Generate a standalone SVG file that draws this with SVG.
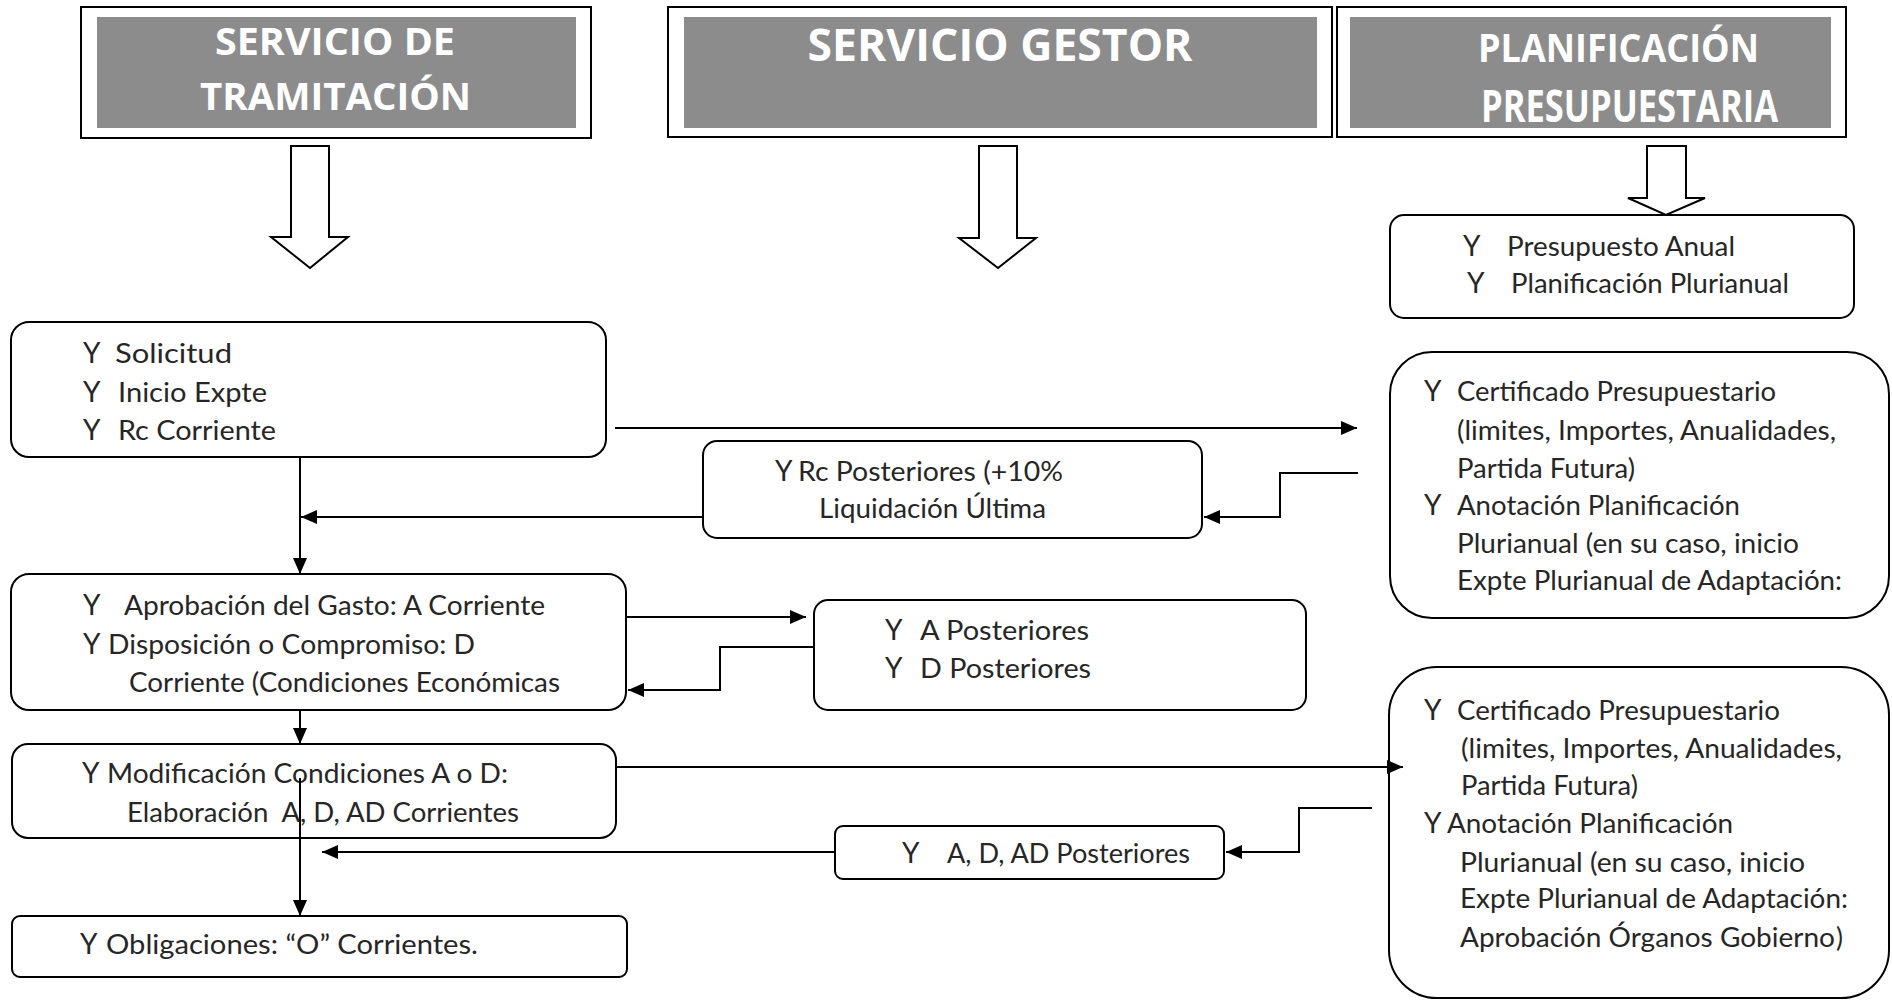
<svg xmlns="http://www.w3.org/2000/svg" width="1892" height="1001" viewBox="0 0 1892 1001">
<style>
  .hdr-out { fill: #ffffff; stroke: #000000; stroke-width: 2; }
  .hdr-in { fill: #8c8c8c; stroke: none; }
  .hdr-t { font-family: "Open Sans", Lato, sans-serif; font-weight: 700; fill: #ffffff; text-anchor: middle; }
  .blk { fill: #ffffff; stroke: #000000; stroke-width: 2; stroke-linejoin: miter; }
  .box { fill: #ffffff; stroke: #000000; stroke-width: 2; }
  .t { font-family: Lato, "Open Sans", sans-serif; font-size: 26px; fill: #262626; }
  .b { font-family: Lato, "Open Sans", sans-serif; font-size: 28px; fill: #262626; }
  .ln { fill: none; stroke: #000000; stroke-width: 2; }
</style>
<defs>
  <marker id="ah" markerUnits="userSpaceOnUse" markerWidth="18" markerHeight="16" refX="16" refY="7" orient="auto">
    <path d="M0,0 L16,7 L0,14 Z" fill="#000000"/>
  </marker>
</defs>
<rect width="1892" height="1001" fill="#ffffff"/>

<g id="hdr-tramitacion">
  <rect class="hdr-out" x="81" y="7" width="510" height="131"/>
  <rect class="hdr-in" x="97" y="17" width="479" height="111"/>
  <text class="hdr-t" x="335" y="55" font-size="38" textLength="240" lengthAdjust="spacingAndGlyphs">SERVICIO DE</text>
  <text class="hdr-t" x="335.5" y="110" font-size="38" textLength="271" lengthAdjust="spacingAndGlyphs">TRAMITACIÓN</text>
</g>
<g id="hdr-gestor">
  <rect class="hdr-out" x="668" y="7" width="664" height="130"/>
  <rect class="hdr-in" x="684" y="17" width="633" height="111"/>
  <text class="hdr-t" x="1000" y="61" font-size="45" textLength="385" lengthAdjust="spacingAndGlyphs">SERVICIO GESTOR</text>
</g>
<g id="hdr-planificacion">
  <rect class="hdr-out" x="1337" y="7" width="509" height="130"/>
  <rect class="hdr-in" x="1350" y="17" width="481" height="111"/>
  <text class="hdr-t" x="1618.5" y="62" font-size="39" textLength="281" lengthAdjust="spacingAndGlyphs">PLANIFICACIÓN</text>
  <text class="hdr-t" x="1629.5" y="122" font-size="44" textLength="297" lengthAdjust="spacingAndGlyphs">PRESUPUESTARIA</text>
</g>

<g id="block-arrows">
  <path class="blk" d="M291,146 H329 V237 H348 L310,268 L271,237 H291 Z"/>
  <path class="blk" d="M979,146 H1017 V238 H1036 L998,268 L959,238 H979 Z"/>
  <path class="blk" d="M1647,146 H1686 V198 H1705 L1666,215 L1628,198 H1647 Z"/>
</g>

<g id="n-solicitud">
  <rect class="box" x="11" y="322" width="595" height="135" rx="18"/>
  <text class="b" x="83" y="363">Y</text><text class="t" x="115" y="363" textLength="117" lengthAdjust="spacingAndGlyphs">Solicitud</text>
  <text class="b" x="83" y="402">Y</text><text class="t" x="118" y="402" textLength="149" lengthAdjust="spacingAndGlyphs">Inicio Expte</text>
  <text class="b" x="83" y="440">Y</text><text class="t" x="118" y="440" textLength="158" lengthAdjust="spacingAndGlyphs">Rc Corriente</text>
</g>
<g id="n-rc-posteriores">
  <rect class="box" x="703" y="441" width="499" height="97" rx="14"/>
  <text class="b" x="775" y="481">Y</text><text class="t" x="798" y="481" textLength="265" lengthAdjust="spacingAndGlyphs">Rc Posteriores (+10%</text>
  <text class="t" x="819" y="518" textLength="227" lengthAdjust="spacingAndGlyphs">Liquidación Última</text>
</g>
<g id="n-aprobacion">
  <rect class="box" x="11" y="574" width="615" height="136" rx="18"/>
  <text class="b" x="83" y="615">Y</text><text class="t" x="124" y="615" textLength="421" lengthAdjust="spacingAndGlyphs">Aprobación del Gasto: A Corriente</text>
  <text class="b" x="83" y="654">Y</text><text class="t" x="108" y="654" textLength="367" lengthAdjust="spacingAndGlyphs">Disposición o Compromiso: D</text>
  <text class="t" x="129" y="692" textLength="431" lengthAdjust="spacingAndGlyphs">Corriente (Condiciones Económicas</text>
</g>
<g id="n-a-posteriores">
  <rect class="box" x="814" y="600" width="492" height="110" rx="14"/>
  <text class="b" x="885" y="640">Y</text><text class="t" x="920" y="640" textLength="169" lengthAdjust="spacingAndGlyphs">A Posteriores</text>
  <text class="b" x="885" y="678">Y</text><text class="t" x="920" y="678" textLength="171" lengthAdjust="spacingAndGlyphs">D Posteriores</text>
</g>
<g id="n-modificacion">
  <rect class="box" x="12" y="744" width="604" height="94" rx="16"/>
  <text class="b" x="82" y="783">Y</text><text class="t" x="107" y="783" textLength="401" lengthAdjust="spacingAndGlyphs">Modificación Condiciones A o D:</text>
  <text class="t" x="127" y="822" style="white-space:pre" textLength="392" lengthAdjust="spacingAndGlyphs">Elaboración  A, D, AD Corrientes</text>
</g>
<g id="n-adp-posteriores">
  <rect class="box" x="835" y="826" width="389" height="53" rx="8"/>
  <text class="b" x="902" y="863">Y</text><text class="t" x="947" y="863" textLength="243" lengthAdjust="spacingAndGlyphs">A, D, AD Posteriores</text>
</g>
<g id="n-obligaciones">
  <rect class="box" x="12" y="916" width="615" height="61" rx="8"/>
  <text class="b" x="80" y="954">Y</text><text class="t" x="106" y="954" textLength="372" lengthAdjust="spacingAndGlyphs">Obligaciones: “O” Corrientes.</text>
</g>
<g id="n-presupuesto">
  <rect class="box" x="1390" y="215" width="464" height="103" rx="14"/>
  <text class="b" x="1463" y="256" font-size="29">Y</text><text class="t" x="1507" y="256" font-size="28" textLength="228" lengthAdjust="spacingAndGlyphs">Presupuesto Anual</text>
  <text class="b" x="1467" y="293" font-size="29">Y</text><text class="t" x="1511" y="293" font-size="28" textLength="278" lengthAdjust="spacingAndGlyphs">Planificación Plurianual</text>
</g>
<g id="n-certificado-1">
  <rect class="box" x="1390" y="352" width="499" height="266" rx="42"/>
  <text class="b" x="1424" y="401">Y</text><text class="t" x="1457" y="401" textLength="319" lengthAdjust="spacingAndGlyphs">Certificado Presupuestario</text>
  <text class="t" x="1457" y="440" textLength="379" lengthAdjust="spacingAndGlyphs">(limites, Importes, Anualidades,</text>
  <text class="t" x="1457" y="478" textLength="178" lengthAdjust="spacingAndGlyphs">Partida Futura)</text>
  <text class="b" x="1424" y="515">Y</text><text class="t" x="1457" y="515" textLength="283" lengthAdjust="spacingAndGlyphs">Anotación Planificación</text>
  <text class="t" x="1457" y="553" textLength="342" lengthAdjust="spacingAndGlyphs">Plurianual (en su caso, inicio</text>
  <text class="t" x="1457" y="590" textLength="385" lengthAdjust="spacingAndGlyphs">Expte Plurianual de Adaptación:</text>
</g>
<g id="n-certificado-2">
  <rect class="box" x="1389" y="667" width="500" height="331" rx="48"/>
  <text class="b" x="1424" y="720">Y</text><text class="t" x="1457" y="720" textLength="323" lengthAdjust="spacingAndGlyphs">Certificado Presupuestario</text>
  <text class="t" x="1461" y="758" textLength="381" lengthAdjust="spacingAndGlyphs">(limites, Importes, Anualidades,</text>
  <text class="t" x="1461" y="795" textLength="177" lengthAdjust="spacingAndGlyphs">Partida Futura)</text>
  <text class="b" x="1424" y="833" font-size="16">Y</text><text class="t" x="1447" y="833" textLength="286" lengthAdjust="spacingAndGlyphs">Anotación Planificación</text>
  <text class="t" x="1460" y="872" textLength="345" lengthAdjust="spacingAndGlyphs">Plurianual (en su caso, inicio</text>
  <text class="t" x="1460" y="908" textLength="388" lengthAdjust="spacingAndGlyphs">Expte Plurianual de Adaptación:</text>
  <text class="t" x="1460" y="947" textLength="375" lengthAdjust="spacingAndGlyphs">Aprobación Órganos Gobierno</text><text class="t" x="1836" y="947" font-size="16">)</text>
</g>

<g id="connectors">
  <path class="ln" d="M300,457 V574" marker-end="url(#ah)"/>
  <path class="ln" d="M615,428 H1357" marker-end="url(#ah)"/>
  <path class="ln" d="M1358,473 H1280 V517 H1204" marker-end="url(#ah)"/>
  <path class="ln" d="M703,517 H301" marker-end="url(#ah)"/>
  <path class="ln" d="M626,617 H806" marker-end="url(#ah)"/>
  <path class="ln" d="M814,647 H720 V690 H628" marker-end="url(#ah)"/>
  <path class="ln" d="M300,710 V744" marker-end="url(#ah)"/>
  <path class="ln" d="M616,767 H1403" marker-end="url(#ah)"/>
  <path class="ln" d="M1372,808 H1299 V852 H1226" marker-end="url(#ah)"/>
  <path class="ln" d="M835,852 H322" marker-end="url(#ah)"/>
  <path class="ln" d="M300,778 V916" marker-end="url(#ah)"/>
</g>
</svg>
